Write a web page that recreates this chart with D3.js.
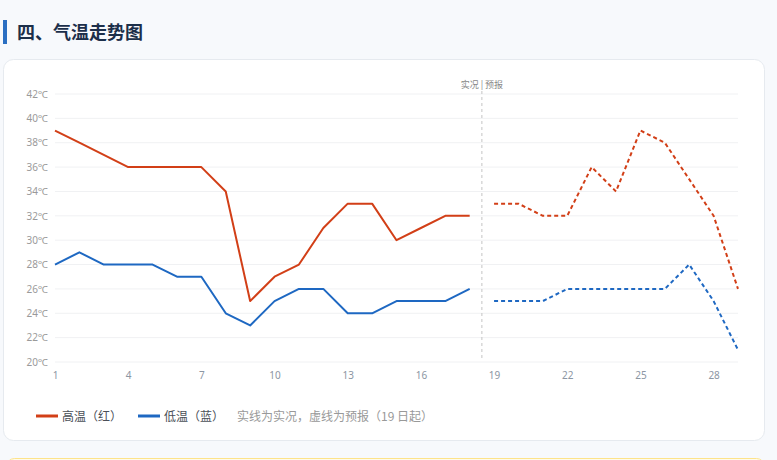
<!DOCTYPE html>
<html>
<head>
<meta charset="utf-8">
<script src="https://cdn.jsdelivr.net/npm/d3@7"></script>
<style>
  html, body { margin: 0; padding: 0; background: #f7f9fc; }
  body { width: 777px; height: 460px; overflow: hidden; font-family: "Noto Sans CJK SC", "Noto Sans", sans-serif; }
  svg { display: block; }
</style>
</head>
<body>
<svg id="chart" width="777" height="460"></svg>
<script>
// actual (days 1-18) and forecast (days 19-29)
var actualDays = d3.range(1, 19);
var forecastDays = d3.range(19, 30);
var highActual = [39, 38, 37, 36, 36, 36, 36, 34, 25, 27, 28, 31, 33, 33, 30, 31, 32, 32];
var lowActual  = [28, 29, 28, 28, 28, 27, 27, 24, 23, 25, 26, 26, 24, 24, 25, 25, 25, 26];
var highForecast = [33, 33, 32, 32, 36, 34, 39, 38, 35, 32, 26];
var lowForecast  = [25, 25, 25, 26, 26, 26, 26, 26, 28, 25, 21];
var xTicks = [1, 4, 7, 10, 13, 16, 19, 22, 25, 28];
var yTicks = d3.range(20, 43, 2);

var svg = d3.select("#chart");

// section title
svg.append("rect").attr("x", 3).attr("y", 20).attr("width", 4).attr("height", 24).attr("fill", "#2b6fc2");
svg.append("text").attr("x", 17).attr("y", 39)
  .attr("font-size", 18).attr("font-weight", "bold").attr("fill", "#1c2f4a")
  .text("四、气温走势图");

// card
svg.append("rect").attr("x", 3.5).attr("y", 59.5).attr("width", 761).attr("height", 381)
  .attr("rx", 10).attr("fill", "#fff").attr("stroke", "#e6eaef");

// next box peeking at bottom
svg.append("rect").attr("x", 6.5).attr("y", 458.5).attr("width", 758).attr("height", 30)
  .attr("rx", 8).attr("fill", "#fffbea").attr("stroke", "#fde38a");

var x = d3.scaleLinear().domain([1, 29]).range([55, 738]);
var y = d3.scaleLinear().domain([20, 42]).range([362, 94]);

var g = svg.append("g");

// grid
g.selectAll(".grid").data(yTicks).enter().append("line")
  .attr("x1", 55).attr("x2", 738)
  .attr("y1", function(d) { return y(d); }).attr("y2", function(d) { return y(d); })
  .attr("stroke", "#f0f1f3").attr("stroke-width", 1);

// y labels
var yAxis = g.append("g").attr("transform", "translate(55,0)")
  .call(d3.axisLeft(y).tickValues(yTicks).tickSize(0).tickPadding(7).tickFormat(function(d) { return d + "℃"; }));
yAxis.select(".domain").remove();
yAxis.selectAll("text").attr("font-size", 10).attr("fill", "#9a9a9a").attr("font-family", "Noto Sans, sans-serif");

// x labels
var xAxis = g.append("g").attr("transform", "translate(0,362)")
  .call(d3.axisBottom(x).tickValues(xTicks).tickSize(0).tickPadding(10).tickFormat(d3.format("d")));
xAxis.select(".domain").remove();
xAxis.selectAll("text").attr("font-size", 10).attr("fill", "#8c96a3").attr("font-family", "Noto Sans, sans-serif");

// divider between actual and forecast
var splitX = x(18.5);
g.append("line").attr("x1", splitX).attr("x2", splitX).attr("y1", 91).attr("y2", 361)
  .attr("stroke", "#c4c4c4").attr("stroke-dasharray", "3,3");
g.append("text").attr("x", splitX).attr("y", 88).attr("text-anchor", "middle")
  .attr("font-size", 9).attr("fill", "#888").text("实况 | 预报");

var line = d3.line()
  .x(function(d) { return x(d[0]); })
  .y(function(d) { return y(d[1]); });

function drawSeries(days, vals, color, dashed) {
  g.append("path")
    .datum(d3.zip(days, vals))
    .attr("d", line)
    .attr("fill", "none")
    .attr("stroke", color)
    .attr("stroke-width", 2)
    .attr("stroke-linejoin", "round")
    .attr("stroke-dasharray", dashed ? "4,3" : null);
}

var red = "#d23f17", blue = "#1e68c2";
drawSeries(actualDays, highActual, red, false);
drawSeries(actualDays, lowActual, blue, false);
drawSeries(forecastDays, highForecast, red, true);
drawSeries(forecastDays, lowForecast, blue, true);

// legend
var legend = svg.append("g").attr("font-size", 12);
var items = [{ label: "高温（红）", color: red, x: 36 }, { label: "低温（蓝）", color: blue, x: 138 }];
items.forEach(function(it) {
  legend.append("line").attr("x1", it.x).attr("x2", it.x + 22).attr("y1", 416).attr("y2", 416)
    .attr("stroke", it.color).attr("stroke-width", 3);
  legend.append("text").attr("x", it.x + 26).attr("y", 420.5).attr("fill", "#4a4f57").text(it.label);
});
legend.append("text").attr("x", 237).attr("y", 420.5).attr("font-size", 12).attr("fill", "#999")
  .text("实线为实况，虚线为预报（19 日起）");
</script>
</body>
</html>
